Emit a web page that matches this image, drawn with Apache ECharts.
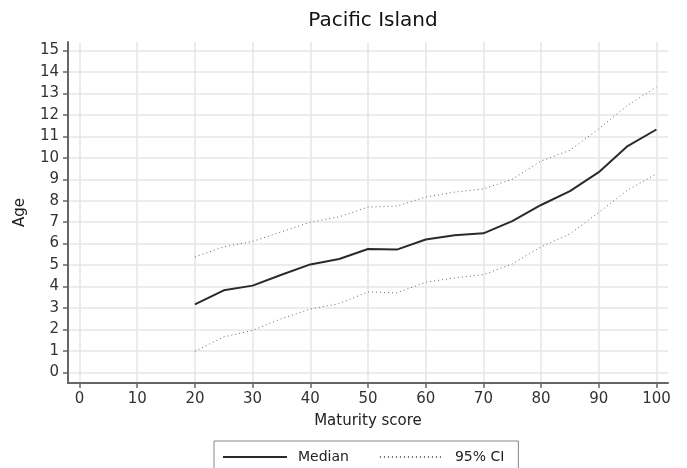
<!DOCTYPE html>
<html>
<head>
<meta charset="utf-8">
<script src="https://cdn.jsdelivr.net/npm/echarts@6/dist/echarts.min.js"></script>
<style>
  html, body { margin: 0; padding: 0; background: #fff; }
  #chart { width: 687px; height: 468px; }
</style>
</head>
<body>
<div id="chart"></div>
<script>
// maturity score (x) and age estimates
const scores = [20, 25, 30, 35, 40, 45, 50, 55, 60, 65, 70, 75, 80, 85, 90, 95, 100];
const median = [3.17, 3.82, 4.04, 4.55, 5.03, 5.28, 5.75, 5.72, 6.19, 6.39, 6.48, 7.05, 7.8, 8.45, 9.33, 10.55, 11.32];
const upperCI = [5.38, 5.85, 6.1, 6.55, 7.0, 7.25, 7.7, 7.75, 8.17, 8.4, 8.55, 9.0, 9.85, 10.35, 11.35, 12.45, 13.3];
const lowerCI = [0.98, 1.65, 1.95, 2.5, 2.95, 3.2, 3.75, 3.7, 4.2, 4.4, 4.55, 5.05, 5.85, 6.45, 7.45, 8.5, 9.25];
const xTicks = [0, 10, 20, 30, 40, 50, 60, 70, 80, 90, 100];
const yTicks = [0, 1, 2, 3, 4, 5, 6, 7, 8, 9, 10, 11, 12, 13, 14, 15];

const font = 'DejaVu Sans';
const pairs = (ys) => scores.map((x, i) => [x, ys[i]]);

const chart = echarts.init(document.getElementById('chart'));

const ciStyle = { color: '#666', width: 1, type: [1, 3] };

chart.setOption({
  animation: false,
  title: {
    text: 'Pacific Island',
    left: 368,
    textAlign: 'center',
    top: 6,
    textStyle: { fontFamily: font, fontSize: 20, fontWeight: 'normal', color: '#111' }
  },
  legend: {
    left: 214,
    top: 441,
    padding: [9, 14, 9, 8],
    borderColor: '#888',
    borderWidth: 1,
    borderRadius: 0,
    itemWidth: 64,
    itemHeight: 14,
    itemGap: 30,
    itemStyle: { opacity: 0 },
    data: ['Median', '95% CI'],
    textStyle: { fontFamily: font, fontSize: 14, color: '#222', padding: [0, 0, 0, 6] }
  },
  grid: { left: 68, right: 19, top: 42, bottom: 85 },
  xAxis: {
    type: 'value',
    min: -2,
    max: 102,
    name: 'Maturity score',
    nameLocation: 'middle',
    nameGap: 31,
    nameTextStyle: { fontFamily: font, fontSize: 15, color: '#222' },
    axisLine: { show: true, onZero: false, lineStyle: { color: '#666', width: 2 } },
    axisTick: { show: true, length: 5, customValues: xTicks, lineStyle: { color: '#666', width: 1.5 } },
    axisLabel: { customValues: xTicks, margin: 9, fontFamily: font, fontSize: 15, color: '#333' },
    splitLine: { show: true, lineStyle: { color: '#e6e6e6', width: 1.5 } }
  },
  yAxis: {
    type: 'value',
    min: -0.5,
    max: 15.4,
    name: 'Age',
    nameLocation: 'middle',
    nameGap: 40,
    nameTextStyle: { fontFamily: font, fontSize: 15, color: '#222' },
    axisLine: { show: true, onZero: false, lineStyle: { color: '#666', width: 2 } },
    axisTick: { show: true, length: 5, customValues: yTicks, lineStyle: { color: '#666', width: 1.5 } },
    axisLabel: { customValues: yTicks, margin: 9, fontFamily: font, fontSize: 15, color: '#333' },
    splitLine: { show: true, lineStyle: { color: '#e6e6e6', width: 1.5 } }
  },
  series: [
    {
      name: 'Median',
      type: 'line',
      symbol: 'none',
      data: pairs(median),
      lineStyle: { color: '#2a2a2a', width: 2 },
      itemStyle: { color: '#2a2a2a' }
    },
    {
      name: '95% CI',
      type: 'line',
      symbol: 'none',
      data: pairs(upperCI),
      lineStyle: ciStyle,
      itemStyle: { color: '#666' }
    },
    {
      name: '95% CI',
      type: 'line',
      symbol: 'none',
      data: pairs(lowerCI),
      lineStyle: ciStyle,
      itemStyle: { color: '#666' }
    }
  ]
});
</script>
</body>
</html>
